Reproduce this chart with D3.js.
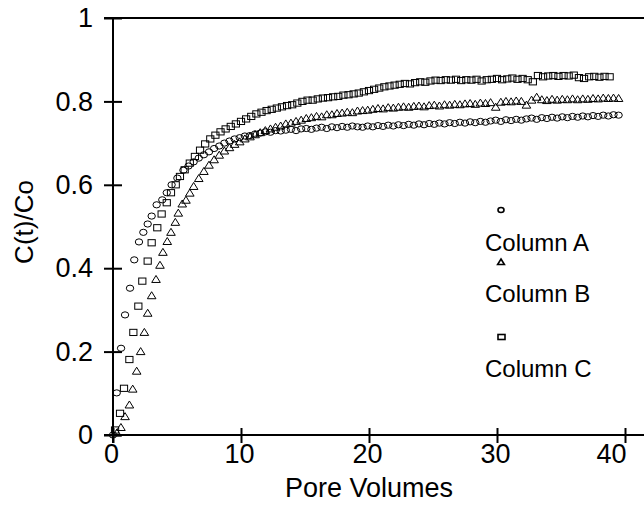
<!DOCTYPE html>
<html>
<head>
<meta charset="utf-8">
<script src="https://cdn.jsdelivr.net/npm/d3@7"></script>
<style>
  body { margin: 0; background: #fff; }
  svg text { font-family: Arial, "Liberation Sans", sans-serif; fill: #000; }
</style>
</head>
<body>
<svg id="chart" width="644" height="529"></svg>
<script>
// Column A (circles)
var pvA = [0, 0.29, 0.63, 0.94, 1.33, 1.66, 2.03, 2.37, 2.71, 3.02, 3.41, 3.85, 4.2, 4.58, 5.03, 5.5, 5.9,
  6.3, 6.7, 7.1, 7.5, 7.9, 8.3, 8.7, 9.1, 9.5, 9.9, 10.3, 10.7, 11.1, 11.5, 11.9, 12.3, 12.7, 13.1, 13.5, 13.9,
  14.3, 14.7, 15.1, 15.5, 15.9, 16.3, 16.7, 17.1, 17.5, 17.9, 18.3, 18.7, 19.1, 19.5, 19.9, 20.3, 20.7, 21.1,
  21.5, 21.9, 22.3, 22.7, 23.1, 23.5, 23.9, 24.3, 24.7, 25.1, 25.5, 25.9, 26.3, 26.7, 27.1, 27.5, 27.9, 28.3,
  28.7, 29.1, 29.5, 29.9, 30.3, 30.7, 31.1, 31.5, 31.9, 32.3, 32.7, 33.1, 33.5, 33.9, 34.3, 34.7, 35.1, 35.5,
  35.9, 36.3, 36.7, 37.1, 37.5, 37.9, 38.3, 38.7, 39.1, 39.5];
var cA = [0, 0.101, 0.208, 0.288, 0.352, 0.42, 0.463, 0.486, 0.506, 0.525, 0.552, 0.564, 0.581, 0.6, 0.616, 0.635, 0.645,
  0.655, 0.664, 0.672, 0.679, 0.687, 0.693, 0.7, 0.705, 0.71, 0.713, 0.717, 0.718, 0.722, 0.724, 0.727, 0.726, 0.73, 0.729, 0.731, 0.733,
  0.73, 0.734, 0.735, 0.733, 0.736, 0.738, 0.735, 0.739, 0.737, 0.74, 0.738, 0.741, 0.739, 0.738, 0.741, 0.739, 0.742, 0.74,
  0.743, 0.741, 0.744, 0.742, 0.745, 0.743, 0.746, 0.744, 0.747, 0.745, 0.748, 0.746, 0.749, 0.747, 0.75, 0.748, 0.751, 0.749,
  0.752, 0.75, 0.753, 0.755, 0.752, 0.756, 0.754, 0.757, 0.755, 0.758, 0.76, 0.757, 0.761, 0.759, 0.762, 0.76, 0.763, 0.761,
  0.764, 0.762, 0.765, 0.763, 0.766, 0.764, 0.767, 0.765, 0.768, 0.767];

// Column B (triangles)
var pvB = [0.3, 0.62, 0.94, 1.28, 1.54, 1.85, 2.16, 2.45, 2.71, 3.02, 3.36, 3.67, 3.9, 4.24, 4.53, 4.87, 5.1, 5.41, 5.7, 6.0,
  6.3, 6.7, 7.1, 7.5, 7.9, 8.3, 8.7, 9.1, 9.5, 9.9, 10.3, 10.7, 11.1, 11.5, 11.9, 12.3, 12.7, 13.1, 13.5, 13.9,
  14.3, 14.7, 15.1, 15.5, 15.9, 16.3, 16.7, 17.1, 17.5, 17.9, 18.3, 18.7, 19.1, 19.5, 19.9, 20.3, 20.7, 21.1,
  21.5, 21.9, 22.3, 22.7, 23.1, 23.5, 23.9, 24.3, 24.7, 25.1, 25.5, 25.9, 26.3, 26.7, 27.1, 27.5, 27.9, 28.3,
  28.7, 29.1, 29.5, 29.9, 30.3, 30.7, 31.1, 31.5, 31.9, 32.3, 32.7, 33.1, 33.5, 33.9, 34.3, 34.7, 35.1, 35.5,
  35.9, 36.3, 36.7, 37.1, 37.5, 37.9, 38.3, 38.7, 39.1, 39.5];
var cB = [0.005, 0.018, 0.044, 0.072, 0.11, 0.153, 0.2, 0.246, 0.292, 0.334, 0.373, 0.407, 0.438, 0.464, 0.486, 0.51, 0.532, 0.554, 0.563, 0.58,
  0.596, 0.615, 0.632, 0.647, 0.66, 0.671, 0.681, 0.689, 0.697, 0.703, 0.71, 0.715, 0.72, 0.725, 0.73, 0.734, 0.738, 0.741, 0.746, 0.748,
  0.752, 0.755, 0.759, 0.761, 0.764, 0.763, 0.768, 0.768, 0.771, 0.772, 0.774, 0.773, 0.777, 0.778, 0.779, 0.781, 0.783, 0.782,
  0.785, 0.784, 0.786, 0.787, 0.786, 0.788, 0.789, 0.787, 0.79, 0.791, 0.789, 0.792, 0.791, 0.793, 0.792, 0.794, 0.795, 0.793,
  0.796, 0.795, 0.797, 0.786, 0.798, 0.8, 0.799, 0.801, 0.8, 0.791, 0.803, 0.81, 0.804, 0.802, 0.805, 0.803, 0.805, 0.804,
  0.806, 0.804, 0.806, 0.805, 0.807, 0.806, 0.808, 0.807, 0.808, 0.807];

// Column C (squares)
var pvC = [0.16, 0.55, 0.86, 1.28, 1.59, 1.98, 2.29, 2.71, 3.02, 3.46, 3.8, 4.2, 4.53, 4.9, 5.23, 5.6, 6.0,
  6.4, 6.8, 7.2, 7.6, 8.0, 8.4, 8.8, 9.2, 9.6, 10.0, 10.4, 10.8, 11.2, 11.6, 12.0, 12.4, 12.8, 13.2, 13.6, 14.0,
  14.4, 14.8, 15.2, 15.6, 16.0, 16.4, 16.8, 17.2, 17.6, 18.0, 18.4, 18.8, 19.2, 19.6, 20.0, 20.4, 20.8, 21.2,
  21.6, 22.0, 22.4, 22.8, 23.2, 23.6, 24.0, 24.4, 24.8, 25.2, 25.6, 26.0, 26.4, 26.8, 27.2, 27.6, 28.0, 28.4,
  28.8, 29.2, 29.6, 30.0, 30.4, 30.8, 31.2, 31.6, 32.0, 32.4, 32.8, 33.2, 33.6, 34.0, 34.4, 34.8, 35.2, 35.6,
  36.0, 36.4, 36.8, 37.2, 37.6, 38.0, 38.4, 38.8];
var cC = [0.012, 0.052, 0.112, 0.181, 0.246, 0.309, 0.369, 0.417, 0.461, 0.497, 0.53, 0.557, 0.581, 0.6, 0.62, 0.636, 0.652,
  0.668, 0.683, 0.698, 0.71, 0.719, 0.727, 0.734, 0.74, 0.746, 0.752, 0.758, 0.764, 0.77, 0.774, 0.778, 0.781, 0.784, 0.787, 0.79, 0.792,
  0.796, 0.8, 0.803, 0.803, 0.806, 0.808, 0.809, 0.811, 0.812, 0.815, 0.816, 0.818, 0.82, 0.823, 0.826, 0.829, 0.832, 0.835,
  0.837, 0.839, 0.841, 0.843, 0.842, 0.845, 0.847, 0.846, 0.849, 0.851, 0.85, 0.852, 0.851, 0.853, 0.85, 0.852, 0.851, 0.853,
  0.849, 0.852, 0.853, 0.855, 0.852, 0.854, 0.856, 0.853, 0.855, 0.852, 0.847, 0.862, 0.859, 0.861, 0.862, 0.86, 0.862, 0.861,
  0.863, 0.857, 0.855, 0.859, 0.86, 0.858, 0.86, 0.859];

var xTicks = [0, 10, 20, 30, 40];
var yTicks = [0, 0.2, 0.4, 0.6, 0.8, 1];
var yTickLabels = ["0", "0.2", "0.4", "0.6", "0.8", "1"];
var seriesNames = ["Column A", "Column B", "Column C"];

var FONT = "Arial, 'Liberation Sans', sans-serif";
var svg = d3.select("#chart");
var x = d3.scaleLinear().domain([0, 40]).range([113, 625]);
var y = d3.scaleLinear().domain([0, 1]).range([435, 18]);

// frame: left axis, bottom axis, top line (right side cut off)
svg.append("line").attr("x1", 104).attr("x2", 644).attr("y1", y(1)).attr("y2", y(1))
  .attr("stroke", "#000").attr("stroke-width", 2);
svg.append("line").attr("x1", 104).attr("x2", 644).attr("y1", y(0)).attr("y2", y(0))
  .attr("stroke", "#000").attr("stroke-width", 2);
svg.append("line").attr("x1", x(0)).attr("x2", x(0)).attr("y1", y(1)).attr("y2", y(0) + 8)
  .attr("stroke", "#000").attr("stroke-width", 2);

var xAxis = svg.append("g").attr("transform", "translate(0," + y(0) + ")")
  .call(d3.axisBottom(x).tickValues(xTicks).tickSizeOuter(0).tickSize(8).tickPadding(1).tickFormat(d3.format("d")));
xAxis.select(".domain").remove();
xAxis.selectAll(".tick line").attr("y1", -7).attr("stroke-width", 2);
xAxis.selectAll(".tick text").attr("font-size", 27).attr("font-family", FONT)
  .attr("dx", function (d) { return d === 40 ? -14 : -2; });

var yAxis = svg.append("g").attr("transform", "translate(" + x(0) + ",0)")
  .call(d3.axisLeft(y).tickValues(yTicks).tickSizeOuter(0).tickSize(9).tickPadding(11)
    .tickFormat(function (d, i) { return yTickLabels[i]; }));
yAxis.select(".domain").remove();
yAxis.selectAll(".tick line").attr("x1", 9).attr("stroke-width", 2);
yAxis.selectAll(".tick text").attr("font-size", 27).attr("font-family", FONT);

svg.append("text").attr("x", x(20)).attr("y", 497).attr("text-anchor", "middle")
  .attr("font-size", 27).text("Pore Volumes");
svg.append("text").attr("transform", "translate(33,222) rotate(-90)").attr("text-anchor", "middle")
  .attr("font-size", 26).text("C(t)/Co");

// markers
var triPath = "M0,-4L4.3,3L-4.3,3Z";
var plot = svg.append("g").attr("fill", "none").attr("stroke", "#000").attr("stroke-width", 1);

plot.selectAll("ellipse.a").data(d3.zip(pvA, cA)).enter().append("ellipse")
  .attr("cx", function (d) { return x(d[0]); })
  .attr("cy", function (d) { return y(d[1]); })
  .attr("rx", 3.7).attr("ry", 3.1);

plot.selectAll("path.b").data(d3.zip(pvB, cB)).enter().append("path")
  .attr("d", triPath)
  .attr("transform", function (d) { return "translate(" + x(d[0]) + "," + y(d[1]) + ")"; });

plot.selectAll("rect.c").data(d3.zip(pvC, cC)).enter().append("rect")
  .attr("x", function (d) { return x(d[0]) - 3.6; })
  .attr("y", function (d) { return y(d[1]) - 3.1; })
  .attr("width", 7.2).attr("height", 6.2);

// legend
var legend = svg.append("g");
var legRows = [{ my: 210, ty: 251 }, { my: 262, ty: 302 }, { my: 337, ty: 377 }];
seriesNames.forEach(function (name, i) {
  var r = legRows[i];
  var g = legend.append("g").attr("fill", "none").attr("stroke", "#000").attr("stroke-width", 1.6);
  if (i === 0) g.append("ellipse").attr("cx", 501).attr("cy", r.my).attr("rx", 3).attr("ry", 2.5);
  if (i === 1) g.append("path").attr("d", "M0,-3L3.4,2.5L-3.4,2.5Z").attr("transform", "translate(501," + r.my + ")");
  if (i === 2) g.append("rect").attr("x", 498).attr("y", r.my - 2.5).attr("width", 7).attr("height", 5);
  legend.append("text").attr("x", 485).attr("y", r.ty).attr("font-size", 24).text(name);
});
</script>
</body>
</html>
